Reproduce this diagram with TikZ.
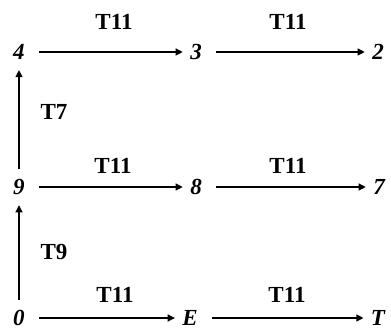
\documentclass[tikz,border=0pt]{standalone}
\usepackage{fontspec}
\setmainfont{Liberation Serif}
\usetikzlibrary{arrows.meta}

\tikzset{
  cell/.style={font=\fontsize{11.5}{13}\selectfont\bfseries\itshape, inner sep=0pt},
  tlabel/.style={font=\fontsize{11.5}{13}\selectfont\bfseries, inner sep=0pt},
  move/.style={-{Triangle[length=3.6pt,width=3.4pt]}, line width=1.1pt, shorten <=7pt, shorten >=3.5pt},
  climb/.style={-{Triangle[length=3.6pt,width=3.4pt]}, line width=1.1pt, shorten <=5pt, shorten >=5pt},
}

\begin{document}
\begin{tikzpicture}[x=0.5pt, y=-0.5pt]
    \useasboundingbox (0,0) rectangle (391,335);

    % Top row
    \node[cell] (n4) at (19, 52) {4};
    \node[cell] (n3) at (196, 52) {3};
    \node[cell] (n2) at (378, 52) {2};

    % Middle row
    \node[cell] (n9) at (19, 187) {9};
    \node[cell] (n8) at (196, 187) {8};
    \node[cell] (n7) at (379, 187) {7};

    % Bottom row
    \node[cell] (n0) at (19, 318) {0};
    \node[cell] (nE) at (190, 318) {E};
    \node[cell] (nT) at (378, 318) {T};

    % Horizontal transitions
    \draw[move] (n4) -- (n3);
    \draw[move] (n3) -- (n2);
    \draw[move] (n9) -- (n8);
    \draw[move] (n8) -- (n7);
    \draw[move] (n0) -- (nE);
    \draw[move] (nE) -- (nT);

    % Vertical transitions
    \draw[climb] (n0) -- (n9);
    \draw[climb] (n9) -- (n4);

    % Labels
    \node[tlabel] (l43) at (114, 22) {T11};
    \node[tlabel] (l32) at (288, 22) {T11};
    \node[tlabel] (l98) at (113, 166) {T11};
    \node[tlabel] (l87) at (288, 166) {T11};
    \node[tlabel] (l0E) at (115, 295) {T11};
    \node[tlabel] (lET) at (287, 295) {T11};
    \node[tlabel] (l94) at (54, 112) {T7};
    \node[tlabel] (l09) at (54, 252) {T9};
\end{tikzpicture}
\end{document}
